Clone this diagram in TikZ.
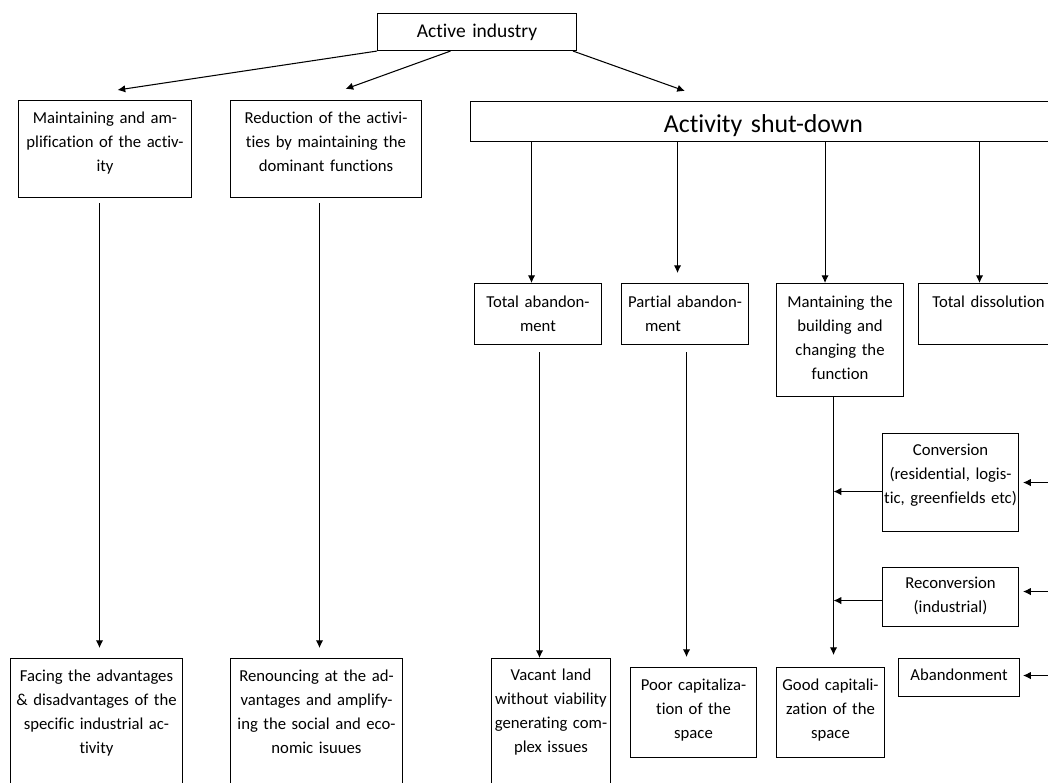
\documentclass[tikz,border=0pt]{standalone}
\usepackage{fontspec}
\setmainfont{Carlito}[Ligatures=NoCommon]
\usetikzlibrary{arrows.meta, positioning}

\begin{document}
\begin{tikzpicture}[x=0.02cm, y=-0.02cm, line width=0.6pt, >={Latex[length=4.4pt,width=4.2pt]},
	box/.style={draw, anchor=north west, align=center, inner xsep=-0.3cm, inner ysep=0pt, text height=0.46cm, font=\fontsize{9.5}{13.7}\selectfont}]
			\useasboundingbox (0,0) rectangle (1048,782);
			\clip (0,0) rectangle (1048,782);
			
			\node[box, text height=0.48cm, text depth=0.26cm, text width=4.58cm, font=\fontsize{11.1}{14}\selectfont] (act) at (377,13) {Active industry};
			\node[box, text height=0.62cm, text depth=0.18cm, text width=12.32cm, font=\fontsize{14.7}{18}\selectfont] (shut) at (470,101) {Activity shut-down};
			
			\node[box, text width=4.06cm, text depth=1.48cm] (keep) at (18,100) {Maintaining and am-\\plification of the activ-\\ity};
			\node[box, text width=4.42cm, text depth=1.48cm] (reduce) at (230,100) {Reduction of the activi-\\ties by maintaining the\\dominant functions};
			
			\node[box, text height=0.48cm, text width=3.14cm, text depth=0.74cm] (total) at (474,283) {Total abandon-\\ment};
			\node[box, text height=0.48cm, text width=3.14cm, text depth=0.74cm] (partial) at (621,283) {Partial abandon-\\\makebox[1.6cm][l]{ment}};
			\node[box, text height=0.48cm, text width=3.14cm, text depth=1.78cm] (change) at (776,283) {Mantaining the\\building and\\changing the\\function};
			\node[box, text height=0.48cm, text width=3.4cm, text depth=0.74cm] (dissol) at (918,283) {Total dissolution};
			
			\node[box, text height=0.44cm, text width=3.32cm, text depth=1.52cm] (conv) at (882,433) {Conversion\\(residential, logis-\\tic, greenfields etc)};
			\node[box, text height=0.42cm, text width=3.32cm, text depth=0.76cm] (reconv) at (882,567) {Reconversion\\(industrial)};
			\node[box, text height=0.44cm, text width=3.02cm, text depth=0.32cm] (aband) at (898,658) {Abandonment};
			
			\node[box, text width=4.04cm, text depth=2.38cm] (facing) at (10,658) {Facing the advantages\\\& disadvantages of the\\specific industrial ac-\\tivity};
			\node[box, text width=4.04cm, text depth=2.38cm] (renounce) at (230,658) {Renouncing at the ad-\\vantages and amplify-\\ing the social and eco-\\nomic isuues};
			\node[box, text height=0.44cm, text width=2.98cm, text depth=2.4cm] (vacant) at (491,658) {Vacant land\\without viability\\generating com-\\plex issues};
			\node[box, text width=3.12cm, text depth=1.34cm] (poor) at (630,667) {Poor capitaliza-\\tion of the\\space};
			\node[box, text width=2.76cm, text depth=1.34cm] (good) at (776,667) {Good capitali-\\zation of the\\space};
			
			\coordinate (trunk) at ([xshift=-0.13cm]change.south);
			\coordinate (in1) at ([xshift=1cm]conv.east);
			\coordinate (in2) at ([xshift=1cm, yshift=0.11cm]reconv.east);
			\coordinate (in3) at ([xshift=1cm, yshift=0.04cm]aband.east);
			
			\draw[->] (act.south west) -- ([xshift=0.25cm, yshift=0.2cm]keep.north);
			\draw[->] ([xshift=-0.53cm]act.south) -- ([xshift=0.39cm, yshift=0.22cm]reduce.north);
			\draw[->] ([xshift=-0.08cm]act.south east) -- ([xshift=4.3cm, yshift=0.2cm]shut.north west);
			
			\draw[->, shorten <=0.1cm, shorten >=0.2cm] ([xshift=-0.11cm]keep.south) -- ([xshift=-0.11cm]keep.south |- facing.north);
			\draw[->, shorten <=0.1cm, shorten >=0.2cm] ([xshift=-0.13cm]reduce.south) -- ([xshift=-0.13cm]reduce.south |- renounce.north);
			
			\draw[->] ([xshift=-0.13cm]total.north |- shut.south) -- ([xshift=-0.13cm]total.north);
			\draw[->, shorten >=0.2cm] ([xshift=-0.15cm]partial.north |- shut.south) -- ([xshift=-0.15cm]partial.north);
			\draw[->] ([xshift=-0.3cm]change.north |- shut.south) -- ([xshift=-0.3cm]change.north);
			\draw[->] ([xshift=-0.18cm]dissol.north |- shut.south) -- ([xshift=-0.18cm]dissol.north);
			
			\draw[->, shorten <=0.14cm] ([xshift=0.03cm]total.south) -- ([xshift=0.03cm]total.south |- vacant.north);
			\draw[->, shorten <=0.14cm, shorten >=0.2cm] ([xshift=0.03cm]partial.south) -- ([xshift=0.03cm]partial.south |- poor.north);
			\draw[->, shorten >=0.24cm] (trunk) -- (trunk |- good.north);
			
			\draw[->] ([yshift=-0.18cm]conv.west) -- ([yshift=-0.18cm]conv.west -| trunk);
			\draw[->] ([yshift=-0.07cm]reconv.west) -- ([yshift=-0.07cm]reconv.west -| trunk);
			
			\draw[->, shorten >=0.08cm] (in1) -- (conv.east);
			\draw[->, shorten >=0.08cm] (in2) -- ([yshift=0.11cm]reconv.east);
			\draw[->, shorten >=0.06cm] (in3) -- ([yshift=0.04cm]aband.east);
\end{tikzpicture}
\end{document}
